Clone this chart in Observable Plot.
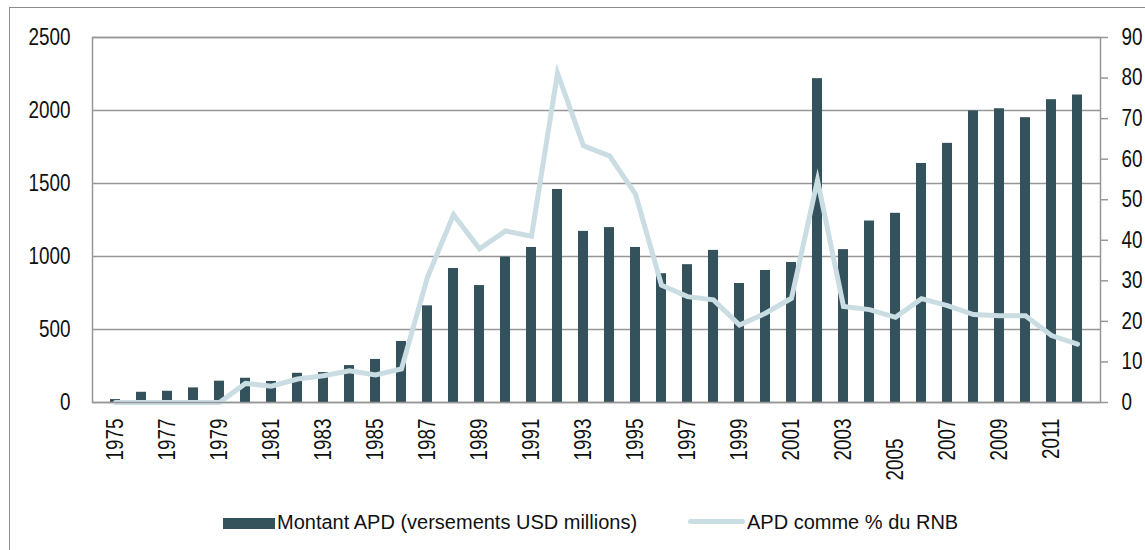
<!DOCTYPE html>
<html>
<head>
<meta charset="utf-8">
<script src="https://cdn.jsdelivr.net/npm/d3@7"></script>
<script src="https://cdn.jsdelivr.net/npm/@observablehq/plot@0.6"></script>
<style>
  html, body { margin: 0; padding: 0; background: #fff; overflow: hidden; width: 1145px; height: 550px; }
  #frame { position: absolute; left: 9px; top: 7px; width: 1200px; height: 600px; border: 1.5px solid #8c8c8c; }
  #chart { position: absolute; left: 0; top: 0; }
  .lg { position: absolute; font-family: 'Liberation Sans', Arial, sans-serif; font-size: 20px; color: #111; white-space: nowrap; line-height: 1; }
</style>
</head>
<body>
<div id="frame"></div>
<div id="chart"></div>
<div class="lg" style="left:223px;top:518px;width:52px;height:11px;background:#34525c;"></div>
<div class="lg" id="lt1" style="left:277px;top:512px;">Montant APD (versements USD millions)</div>
<div class="lg" style="left:688px;top:519px;width:57px;height:5px;border-radius:2.5px;background:#c9dde2;"></div>
<div class="lg" id="lt2" style="left:747px;top:512px;">APD comme % du RNB</div>
<script>
const years = [1975,1976,1977,1978,1979,1980,1981,1982,1983,1984,1985,1986,1987,1988,1989,1990,1991,1992,1993,1994,1995,1996,1997,1998,1999,2000,2001,2002,2003,2004,2005,2006,2007,2008,2009,2010,2011,2012];
const amounts = [20,70,77,100,146,166,144,200,205,253,295,418,662,918,801,996,1062,1459,1172,1198,1062,882,944,1042,815,904,959,2218,1047,1243,1296,1637,1775,1997,2012,1951,2074,2106];
const pctRNB = [0,0,0,0,0,4.7,4.0,5.8,6.6,7.8,6.8,8.3,30.9,46.3,37.9,42.3,41.0,81.2,63.3,60.8,51.4,28.9,26.1,25.3,19.1,22.0,25.7,54.8,23.7,22.9,21.0,25.6,23.9,21.7,21.4,21.4,16.5,14.4];
const leftTicks = [0,500,1000,1500,2000,2500];
const rightTicks = [0,10,20,30,40,50,60,70,80,90];
const xLabels = [1975,1977,1979,1981,1983,1985,1987,1989,1991,1993,1995,1997,1999,2001,2003,2007,2009,2011];
const xLabelsLow = [2005];

const leftMax = 2500, rightMax = 90;
const toLeft = v => v * leftMax / rightMax;
const table = years.map((y, i) => ({year: y, amount: amounts[i], pct: pctRNB[i]}));

const font = "'Liberation Sans', Arial, sans-serif";
const chart = Plot.plot({
  width: 1145,
  height: 500,
  marginLeft: 92,
  marginRight: 45,
  marginTop: 37,
  marginBottom: 98,
  style: {fontFamily: font, fontSize: "23px", color: "#111", background: "transparent", overflow: "visible"},
  x: {type: "band", domain: years, paddingInner: 0.6, paddingOuter: 0.3, align: 0.5},
  y: {domain: [0, leftMax]},
  marks: [
    Plot.gridY(leftTicks, {stroke: "#969696", strokeOpacity: 1, strokeWidth: 1.5}),
    Plot.barY(table, {x: "year", y: "amount", fill: "#34525c"}),
    Plot.lineY(table, {x: "year", y: d => toLeft(d.pct), stroke: "#c9dde2", strokeWidth: 5, strokeLinejoin: "miter", strokeMiterlimit: 10, strokeLinecap: "round"}),
    Plot.frame({stroke: "#969696", strokeWidth: 1.5}),
    Plot.axisY({ticks: leftTicks, tickFormat: d => String(d), tickSize: 0, tickPadding: 22, label: null, fontSize: 23}),
    Plot.axisY({anchor: "right", ticks: rightTicks.map(toLeft), tickFormat: d => String(Math.round(d * rightMax / leftMax)), tickSize: 7, tickPadding: 14, stroke: "#969696", strokeWidth: 1.5, label: null, fontSize: 23}),
    Plot.axisX({ticks: xLabels, tickFormat: d => String(d), tickRotate: -90, tickSize: 0, tickPadding: 16, label: null, fontSize: 23}),
    Plot.axisX({ticks: xLabelsLow, tickFormat: d => String(d), tickRotate: -90, tickSize: 0, tickPadding: 36, label: null, fontSize: 23})
  ]
});
document.getElementById("chart").appendChild(chart);
// emulate the condensed (narrow) face of the original's axis labels
chart.querySelectorAll("text").forEach(t => {
  const len = t.getComputedTextLength();
  if (len > 0) {
    t.setAttribute("textLength", (len * 0.82).toFixed(2));
    t.setAttribute("lengthAdjust", "spacingAndGlyphs");
  }
});
</script>
</body>
</html>
